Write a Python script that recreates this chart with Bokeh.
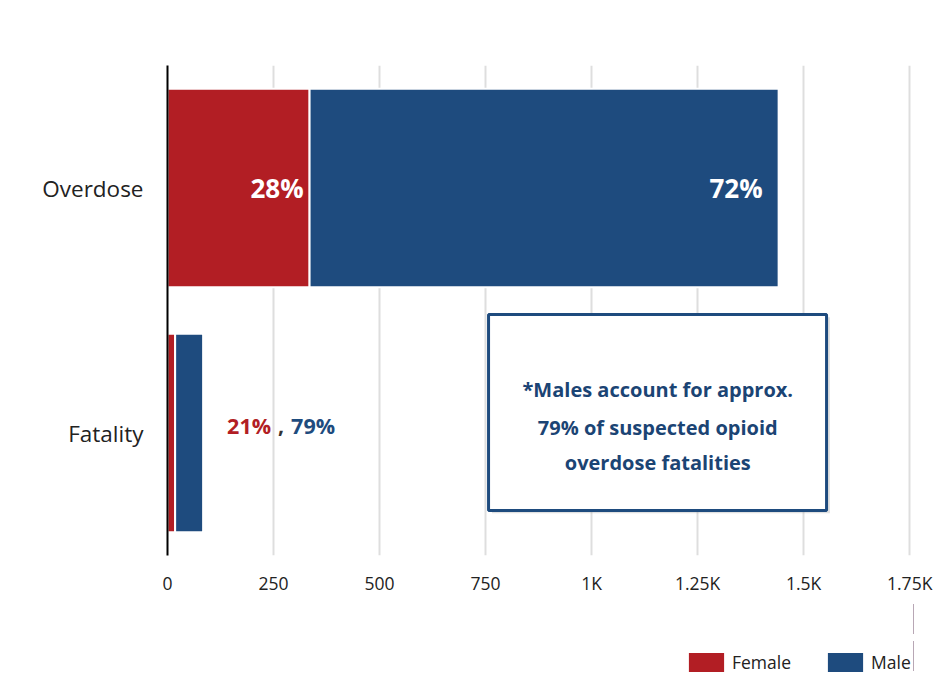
from bokeh.plotting import figure
from bokeh.layouts import column
from bokeh.models import (ColumnDataSource, FactorRange, FixedTicker, Legend,
                          LegendItem, BoxAnnotation, Label, Range1d)
from bokeh.core.properties import value
from bokeh.embed import file_html
from bokeh.resources import INLINE

# ---------------- data ----------------
CATEGORIES = ["Fatality", "Overdose"]
SERIES = ["Female", "Male"]
FEMALE = [18, 335]
MALE = [66, 1106]
COLORS = ["#b21e24", "#1e4b7e"]
OVERDOSE_PCT = ["28%", "72%"]
FATALITY_PCT = ["21%", "79%"]
X_TICKS = [0, 250, 500, 750, 1000, 1250, 1500, 1750]
X_TICK_LABELS = ["0", "250", "500", "750", "1K", "1.25K", "1.5K", "1.75K"]
NOTE_LINES = ["*Males account for approx.",
              "79% of suspected opioid",
              "overdose fatalities"]

FONT = "Open Sans"

src = ColumnDataSource(dict(cat=CATEGORIES, Female=FEMALE, Male=MALE))

p = figure(frame_width=746, frame_height=490, output_backend="svg",
           toolbar_location=None,
           y_range=FactorRange(factors=CATEGORIES), x_range=(0, 1759),
           min_border_left=167, min_border_right=29, min_border_top=65,
           min_border_bottom=45)
p.outline_line_color = None
p.background_fill_color = "white"
p.border_fill_color = "white"

rs = p.hbar_stack(SERIES, y="cat", height=0.81, color=COLORS,
                  line_color="white", line_width=2, source=src)

# axes
p.xaxis.ticker = FixedTicker(ticks=X_TICKS)
p.xaxis.major_label_overrides = {t: l for t, l in zip(X_TICKS, X_TICK_LABELS)}
p.xaxis.axis_line_color = None
p.xaxis.major_tick_line_color = None
p.xaxis.minor_tick_line_color = None
p.xaxis.major_tick_out = 0
p.xaxis.major_label_standoff = 15
p.xaxis.major_label_text_font = FONT
p.xaxis.major_label_text_font_size = "17.5px"
p.xaxis.major_label_text_color = "#222222"

p.yaxis.axis_line_color = "black"
p.yaxis.axis_line_width = 2
p.yaxis.major_tick_line_color = None
p.yaxis.minor_tick_line_color = None
p.yaxis.major_tick_out = 0
p.yaxis.major_label_standoff = 24
p.yaxis.major_label_text_font = FONT
p.yaxis.major_label_text_font_size = "22.5px"
p.yaxis.major_label_text_color = "#222222"

p.xgrid.grid_line_color = "#dedede"
p.xgrid.grid_line_width = 2
p.ygrid.grid_line_color = None

# bar labels (overdose)
od = CATEGORIES.index("Overdose")
p.text(x=[FEMALE[od], FEMALE[od] + MALE[od]], y=["Overdose", "Overdose"],
       text=OVERDOSE_PCT, x_offset=[-6, -16], text_align="right",
       text_baseline="middle", text_color="white",
       text_font=value(FONT), text_font_style="bold", text_font_size="26px")

# fatality labels
fa = CATEGORIES.index("Fatality")
ftot = FEMALE[fa] + MALE[fa]
for txt, off, col in [(FATALITY_PCT[0], 24, COLORS[0]), (",", 75, "#333333"),
                      (FATALITY_PCT[1], 88, COLORS[1])]:
    p.add_layout(Label(x=ftot, y=0.53, text=txt, x_offset=off,
                       text_align="left", text_baseline="middle",
                       text_color=col, text_font=FONT, text_font_style="bold",
                       text_font_size="21.5px"))

# note box
p.add_layout(BoxAnnotation(left=765, right=1562, top=0.972, bottom=0.172,
                           fill_color="#888888", fill_alpha=0.25, line_color=None))
p.add_layout(BoxAnnotation(left=757, right=1554, top=0.984, bottom=0.184,
                           fill_color="white", fill_alpha=1.0,
                           line_color="#1e4b7e", line_width=3, line_alpha=1.0))
for txt, yy in zip(NOTE_LINES, [0.678, 0.522, 0.38]):
    p.add_layout(Label(x=1156, y=yy, text=txt, text_align="center",
                       text_baseline="middle", text_color="#1b4474",
                       text_font=FONT, text_font_style="bold",
                       text_font_size="20px"))

# ---------------- legend strip below the chart ----------------
# (its frame is aligned with the chart's frame by the column layout;
#  the series bars lie outside its x range, only the legend shows)
p2 = figure(width=942, height=74, output_backend="svg", toolbar_location=None,
            x_range=Range1d(-20, -10), y_range=FactorRange(factors=CATEGORIES),
            min_border_left=167, min_border_right=29, min_border_top=0,
            min_border_bottom=0)
p2.axis.visible = False
p2.grid.grid_line_color = None
p2.grid.visible = False
p2.outline_line_color = None
p2.background_fill_color = "white"
p2.border_fill_color = "white"
lr = p2.hbar_stack(SERIES, y="cat", height=0.81, color=COLORS,
                   line_color=None, source=src)

legend = Legend(items=[LegendItem(label=s, renderers=[r]) for s, r in zip(SERIES, lr)],
                orientation="horizontal", location=(517, 0),
                glyph_width=44, glyph_height=24, label_standoff=4, spacing=32,
                padding=0, margin=0, border_line_color=None,
                background_fill_alpha=0, label_text_font=FONT,
                label_text_font_size="17.5px", label_text_color="#222222",
                label_height=19)
p2.add_layout(legend, "center")

layout = column(p, p2, spacing=0)
open("out.html", "w").write(file_html(layout, INLINE))
